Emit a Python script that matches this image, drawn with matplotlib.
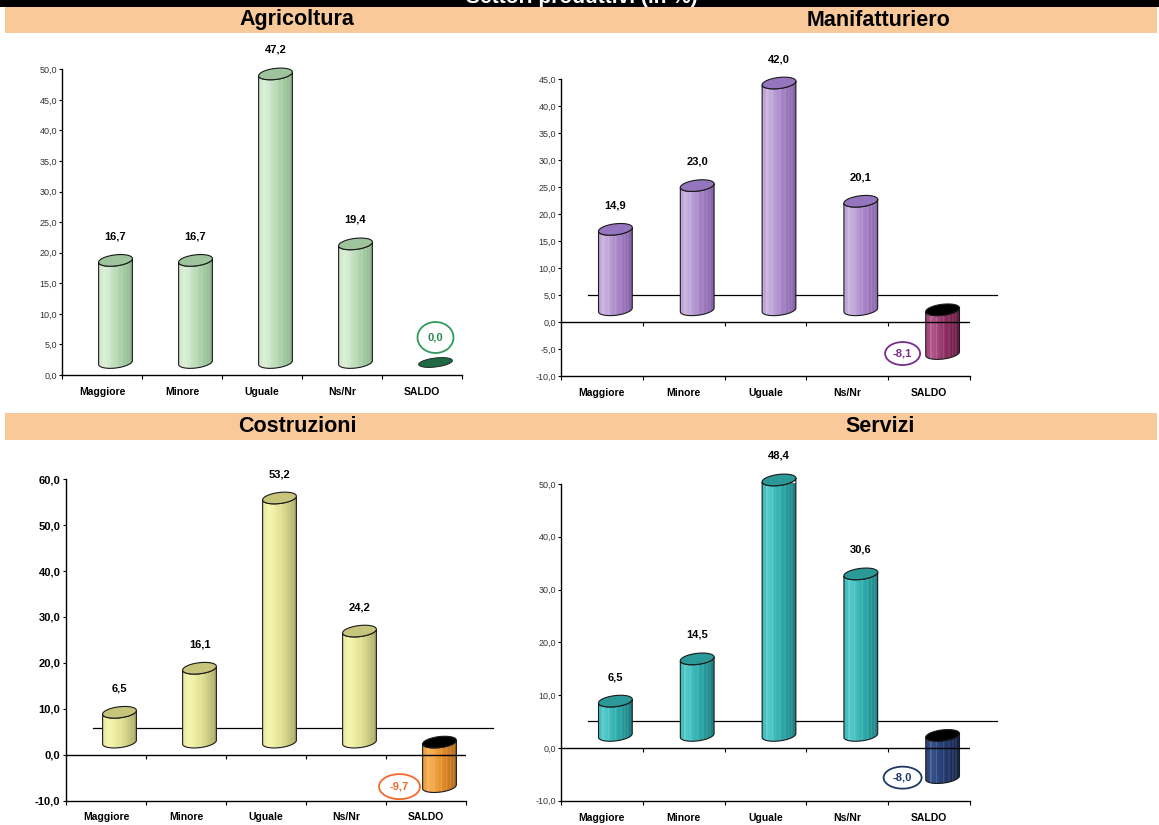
import numpy as np
import matplotlib
matplotlib.use("Agg")
import matplotlib.pyplot as plt
from matplotlib.patches import Rectangle, Ellipse, Polygon
from matplotlib.colors import to_rgb

plt.rcParams['font.family'] = ['Liberation Sans', 'DejaVu Sans']

# ---------------- data ----------------
categories = ["Maggiore", "Minore", "Uguale", "Ns/Nr", "SALDO"]
agricoltura = [16.7, 16.7, 47.2, 19.4, 0.0]
manifatturiero = [14.9, 23.0, 42.0, 20.1, -8.1]
costruzioni = [6.5, 16.1, 53.2, 24.2, -9.7]
servizi = [6.5, 14.5, 48.4, 30.6, -8.0]

main_title = "Settori produttivi (in %)"
sector_names = ["Agricoltura", "Manifatturiero", "Costruzioni", "Servizi"]

# ---------------- figure ----------------
W, H = 1159, 825
fig = plt.figure(figsize=(W / 100, H / 100), dpi=100)


def fig_rect(x0, y0, x1, y1):
    """Pixel box (top-left origin) -> figure fraction rect."""
    return [x0 / W, 1 - y1 / H, (x1 - x0) / W, (y1 - y0) / H]


def fig_patch(x0, y0, x1, y1, color):
    r = Rectangle((x0 / W, 1 - y1 / H), (x1 - x0) / W, (y1 - y0) / H,
                  transform=fig.transFigure, color=color, lw=0, zorder=0)
    fig.patches.append(r)


# title strip and sector header bands
PEACH = "#f9c99a"
fig_patch(0, 0, W, 7, "black")
fig.text(582 / W, 1 - 3 / H, main_title, color="white", fontsize=15,
         fontweight="bold", ha="center", va="baseline")
for y0, y1 in [(7, 33), (413, 440)]:
    fig_patch(5, y0, 576, y1, PEACH)
    fig_patch(576, y0, 1157, y1, PEACH)

header_pos = [(297, 20), (879, 20), (297, 427), (880, 427)]
for name, (hx, hy) in zip(sector_names, header_pos):
    fig.text(hx / W, 1 - hy / H, name, fontsize=15.5, fontweight="bold",
             ha="center", va="center")

# cylinder geometry (pixels)
CYL_HALF = 17.0
ELL_B = 5.5
TILT = np.deg2rad(7)
DEPTH_X = 13.5
DEPTH_Y = 12.5
BACK = 27.0


def shade(stops, n=70):
    t = np.linspace(0, 1, n)
    pos = [0.0, 0.2, 0.6, 1.0]
    rgb = np.array([to_rgb(c) for c in stops])
    img = np.stack([np.interp(t, pos, rgb[:, k]) for k in range(3)], axis=1)
    for lo, hi in [(0.12, 0.145), (0.3, 0.315), (0.52, 0.535), (0.68, 0.695),
                   (0.79, 0.80), (0.87, 0.885)]:
        m = (t >= lo) & (t <= hi)
        img[m] = img[m] * 0.7 + 0.3
    return img[None, :, :]


def cylinder(ax, xc, y0, y1, ppx, ppy, stops, cap, z):
    def ell(theta, yc):
        ex = CYL_HALF * np.cos(theta)
        ey = ELL_B * np.sin(theta)
        rx = ex * np.cos(TILT) - ey * np.sin(TILT)
        ry = ex * np.sin(TILT) + ey * np.cos(TILT)
        return np.column_stack([xc + rx / ppx, yc + ry / ppy])

    bottom = ell(np.linspace(0, -np.pi, 60), y0)
    top_front = ell(np.linspace(np.pi, 2 * np.pi, 60), y1)
    outline = np.vstack([bottom, top_front])
    body = Polygon(outline, closed=True, facecolor="none", edgecolor="none",
                   zorder=z, clip_on=False)
    ax.add_patch(body)
    ymin = min(y0, y1) - 12 / ppy
    ymax = max(y0, y1) + 12 / ppy
    im = ax.imshow(shade(stops), extent=[xc - CYL_HALF / ppx, xc + CYL_HALF / ppx,
                                         ymin, ymax],
                   aspect="auto", interpolation="bilinear", zorder=z,
                   clip_path=body)
    im.set_clip_box(None)
    ax.add_patch(Polygon(outline, closed=True, facecolor="none",
                         edgecolor="#1a1a1a", lw=0.8, zorder=z + 0.1, clip_on=False))
    ax.add_patch(Polygon(ell(np.linspace(0, 2 * np.pi, 120), y1), closed=True,
                         facecolor=cap, edgecolor="#1a1a1a", lw=0.8, zorder=z + 0.2,
                         clip_on=False))


def flat_disc(ax, xc, yc, ppx, ppy, color, z):
    th = np.linspace(0, 2 * np.pi, 120)
    ex = CYL_HALF * np.cos(th)
    ey = 4.5 * np.sin(th)
    rx = ex * np.cos(TILT) - ey * np.sin(TILT)
    ry = ex * np.sin(TILT) + ey * np.cos(TILT)
    ax.add_patch(Polygon(np.column_stack([xc + rx / ppx, yc + ry / ppy]), closed=True,
                         facecolor=color, edgecolor="#1a1a1a", lw=0.6, zorder=z,
                         clip_on=False))


def fmt(v):
    return f"{v:.1f}".replace(".", ",")


panels = [
    dict(values=agricoltura, box=(62, 462, 69.3, 375.0), ylim=(0, 50), step=5,
         stops=["#cfe8cc", "#d9efd6", "#b0d4ad", "#8cb48a"], cap="#9fc39c",
         saldo=["#1e6a45"] * 4, saldo_cap="#1e6a45",
         ring="#2e9a5c", ring_text="#2b8a50", ring_size=(36, 31),
         bold_ticks=False, back=False),
    dict(values=manifatturiero, box=(561, 970, 79.3, 376.3), ylim=(-10, 45), step=5,
         stops=["#bea3d6", "#c9b1de", "#a683c6", "#8460a8"], cap="#9675bf",
         saldo=["#a2447a", "#b0568a", "#8a2d5e", "#621a40"], saldo_cap="#000000",
         ring="#7a2c8c", ring_text="#7a2c8c", ring_size=(35, 23),
         bold_ticks=False, back=True),
    dict(values=costruzioni, box=(66, 466, 479.3, 800.5), ylim=(-10, 60), step=10,
         stops=["#ecec9c", "#f6f6ae", "#dcdc8e", "#a8a764"], cap="#c7c57b",
         saldo=["#ee9c3c", "#f8b052", "#e08a28", "#a8621a"], saldo_cap="#000000",
         ring="#f26a2c", ring_text="#f26a2c", ring_size=(41, 25),
         bold_ticks=True, back=True),
    dict(values=servizi, box=(561, 970, 484.0, 800.7), ylim=(-10, 50), step=10,
         stops=["#3dbaba", "#52caca", "#2ba8a8", "#1a7c7e"], cap="#2a9997",
         saldo=["#2d4474", "#34508a", "#22386a", "#142348"], saldo_cap="#000000",
         ring="#1f3868", ring_text="#1f3868", ring_size=(38, 22),
         bold_ticks=False, back=True),
]

for p in panels:
    left, right, top, bottom = p["box"]
    ylo, yhi = p["ylim"]
    ax = fig.add_axes(fig_rect(left, top, right, bottom))
    ax.patch.set_alpha(0)
    ppx = (right - left) / 5.0
    ppy = (bottom - top) / (yhi - ylo)

    for s in ["top", "right"]:
        ax.spines[s].set_visible(False)
    for s in ["left", "bottom"]:
        ax.spines[s].set_linewidth(1.0)
        ax.spines[s].set_zorder(10)

    yt = np.arange(ylo, yhi + 0.01, p["step"])
    ax.set_yticks(yt)
    ax.set_yticklabels([fmt(v) for v in yt])
    if p["bold_ticks"]:
        ax.tick_params(axis="y", labelsize=8, pad=1.5, length=2.5, width=0.8)
        for lab in ax.get_yticklabels():
            lab.set_fontweight("bold")
    else:
        ax.tick_params(axis="y", labelsize=6.5, labelcolor="#333333", pad=1,
                       length=2.5, width=0.8)

    ax.set_xticks(np.arange(6))
    ax.set_xticklabels([])
    ax.set_xticks(np.arange(5) + 0.5, minor=True)
    ax.set_xticklabels(categories, minor=True, fontsize=7.5, fontweight="bold")
    ax.tick_params(axis="x", which="major", length=3, width=0.8, direction="out")
    ax.tick_params(axis="x", which="minor", length=0, pad=8.5)

    if ylo < 0:
        ax.axhline(0, color="black", lw=1.0, zorder=9)
        ax.vlines(np.arange(1, 6), 0, -4.0 / ppy, color="black", lw=0.8, zorder=9)
    if p["back"]:
        ax.plot([BACK / ppx, 5 + BACK / ppx], [BACK / ppy] * 2, color="black",
                lw=0.9, clip_on=False, zorder=1)

    off = DEPTH_Y / ppy
    for i, v in enumerate(p["values"]):
        xc = i + 0.5 + DEPTH_X / ppx
        last = i == len(p["values"]) - 1
        if last:
            if v == 0:
                flat_disc(ax, xc, off, ppx, ppy, p["saldo_cap"], 4)
                lx, ly = xc, off + 25 / ppy
            else:
                cylinder(ax, xc, v + off, off, ppx, ppy, p["saldo"], p["saldo_cap"], 4)
                lx, ly = xc - 40 / ppx, v + off
            rw, rh = p["ring_size"]
            ax.add_patch(Ellipse((lx, ly), rw / ppx, rh / ppy, facecolor="white",
                                 edgecolor=p["ring"], lw=1.3, zorder=12, clip_on=False))
            ax.text(lx, ly, fmt(v), ha="center", va="center", fontsize=8,
                    fontweight="bold", color=p["ring_text"], zorder=13)
        else:
            cylinder(ax, xc, off, v + off, ppx, ppy, p["stops"], p["cap"], 4)
            ax.text(xc, v + off + 24 / ppy, fmt(v), ha="center", va="center",
                    fontsize=8, fontweight="bold", zorder=13)

    ax.set_xlim(0, 5)
    ax.set_ylim(ylo, yhi)

fig.savefig("out.png", dpi=100)
